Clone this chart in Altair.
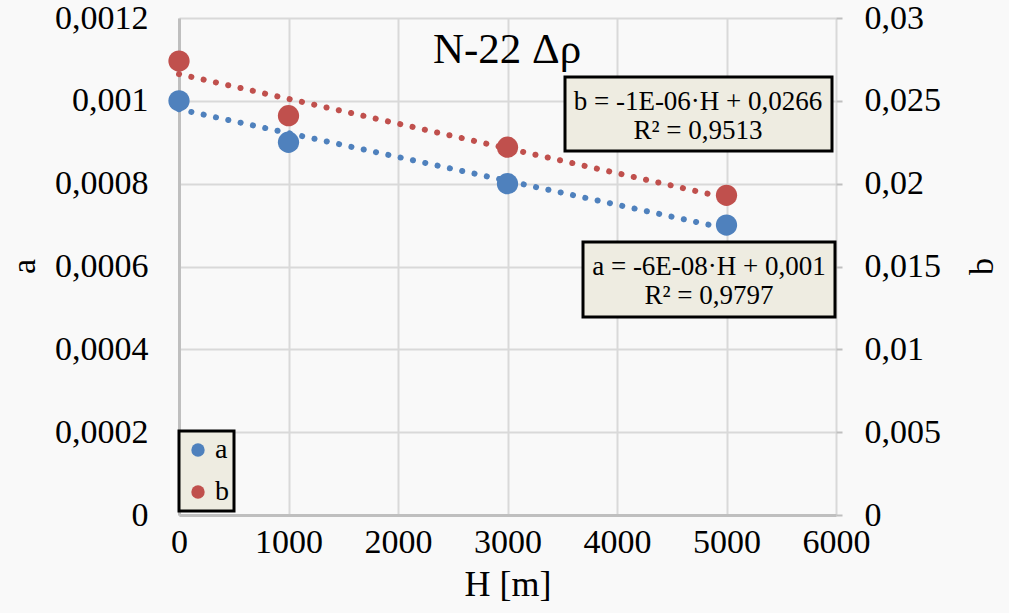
import altair as alt
import pandas as pd

# ---- data ----
H = [0, 1000, 3000, 5000]
a_vals = [0.00100, 0.00090, 0.00080, 0.00070]
b_vals = [0.0274, 0.0241, 0.0222, 0.0193]
series = ["a", "b"]
colors = ["#4f81bd", "#c0504d"]
x_ticks = [0, 1000, 2000, 3000, 4000, 5000, 6000]
a_ticks = [0, 0.0002, 0.0004, 0.0006, 0.0008, 0.001, 0.0012]
b_ticks = [0, 0.005, 0.01, 0.015, 0.02, 0.025, 0.03]
title_text = "N-22 Δρ"
eq_b = ["b = -1E-06·H + 0,0266", "R² = 0,9513"]
eq_a = ["a = -6E-08·H + 0,001", "R² = 0,9797"]

FONT = "Liberation Serif"
GRID = "#d9d9d9"
AXIS = "#bfbfbf"
BOXFILL = "#eeece1"
TICKFS = 34

rows = []
for h, av, bv in zip(H, a_vals, b_vals):
    rows.append({"H": h, "value": av, "series": "a"})
    rows.append({"H": h, "value": bv, "series": "b"})
df = pd.DataFrame(rows)

X = alt.X(
    "H:Q",
    scale=alt.Scale(domain=[0, 6000], nice=False),
    axis=alt.Axis(
        values=x_ticks, format="d", title="H [m]",
        labelFont=FONT, labelFontSize=TICKFS, labelColor="black", labelPadding=10,
        labelFlush=False, labelOverlap=False, ticks=False,
        domainColor=AXIS, domainWidth=3,
        grid=True, gridColor=GRID, gridWidth=2,
        titleFont=FONT, titleFontSize=36, titleFontWeight="normal", titleColor="black",
        titleY=69, titleBaseline="middle",
    ),
)

color = alt.Color(
    "series:N",
    scale=alt.Scale(domain=series, range=colors),
    legend=alt.Legend(
        title=None, orient="none", legendX=0, legendY=413,
        fillColor=BOXFILL, strokeColor="black", padding=5, rowPadding=14,
        symbolSize=180, symbolType="circle", symbolStrokeWidth=0, symbolOpacity=1,
        labelFont=FONT, labelFontSize=28, labelColor="black", labelOffset=3,
    ),
)

label_expr = "replace(toString(datum.value), '.', ',')"

Ya = alt.Y(
    "value:Q",
    scale=alt.Scale(domain=[0, 0.0012], nice=False),
    axis=alt.Axis(
        values=a_ticks, labelExpr=label_expr, title="a", orient="left",
        labelFont=FONT, labelFontSize=TICKFS, labelColor="black", labelPadding=31,
        labelFlush=False, labelOverlap=False, ticks=False,
        domainColor=AXIS, domainWidth=3,
        grid=True, gridColor=GRID, gridWidth=2,
        titleFont=FONT, titleFontSize=34, titleFontWeight="normal", titleColor="black",
        titleAngle=270, titleX=-155, titleY=248, titleAlign="center", titleBaseline="middle",
    ),
)

Yb = alt.Y(
    "value:Q",
    scale=alt.Scale(domain=[0, 0.03], nice=False),
    axis=alt.Axis(
        values=b_ticks, labelExpr=label_expr, title="b", orient="right",
        labelFont=FONT, labelFontSize=TICKFS, labelColor="black", labelPadding=22,
        labelFlush=False, labelOverlap=False,
        ticks=True, tickSize=6, tickColor=AXIS, tickWidth=2,
        domain=False, grid=False,
        titleFont=FONT, titleFontSize=34, titleFontWeight="normal", titleColor="black",
        titleAngle=270, titleX=146, titleY=248, titleAlign="center", titleBaseline="middle",
    ),
)

base = alt.Chart(df)

a_line = base.transform_filter(alt.datum.series == "a").transform_regression(
    "H", "value", extent=[0, 5000]
).mark_line(strokeDash=[0.1, 12.5], strokeCap="round", strokeWidth=6, color=colors[0]).encode(x=X, y=Ya)
a_pts = base.transform_filter(alt.datum.series == "a").mark_circle(size=452, opacity=1).encode(x=X, y=Ya, color=color)

b_line = base.transform_filter(alt.datum.series == "b").transform_regression(
    "H", "value", extent=[0, 5000]
).mark_line(strokeDash=[0.1, 12.5], strokeCap="round", strokeWidth=6, color=colors[1]).encode(x=X, y=Yb)
b_pts = base.transform_filter(alt.datum.series == "b").mark_circle(size=452, opacity=1).encode(x=X, y=Yb, color=color)

left = alt.layer(a_line, a_pts)
right = alt.layer(b_line, b_pts)

one = alt.Data(values=[{"k": 0}])

def box(x1, x2, y1, y2):
    return alt.Chart(one).mark_rect(fill=BOXFILL, stroke="black", strokeWidth=3).encode(
        x=alt.value(x1), x2=alt.value(x2), y=alt.value(y1), y2=alt.value(y2)
    )

def label(txt, x, y, size):
    return alt.Chart(one).mark_text(
        text=txt, font=FONT, fontSize=size, color="black", align="center", baseline="middle"
    ).encode(x=alt.value(x), y=alt.value(y))

annotations = [
    label(title_text, 328, 32, 43),
    box(386, 653, 59, 133),
    label(eq_b[0], 519, 84, 27),
    label(eq_b[1], 519, 113, 27),
    box(404, 656, 224, 299),
    label(eq_a[0], 530, 249, 27),
    label(eq_a[1], 530, 278, 27),
]

chart = alt.layer(left, right, *annotations).resolve_scale(y="independent").properties(
    width=657, height=497,
    autosize=alt.AutoSizeParams(type="none"),
    padding={"left": 179, "top": 18, "right": 173, "bottom": 98},
    background="#f9f9f9",
).configure_view(stroke=None).configure_legend(strokeWidth=3)

chart.save("out.html", embed_options={"renderer": "svg", "actions": False})
